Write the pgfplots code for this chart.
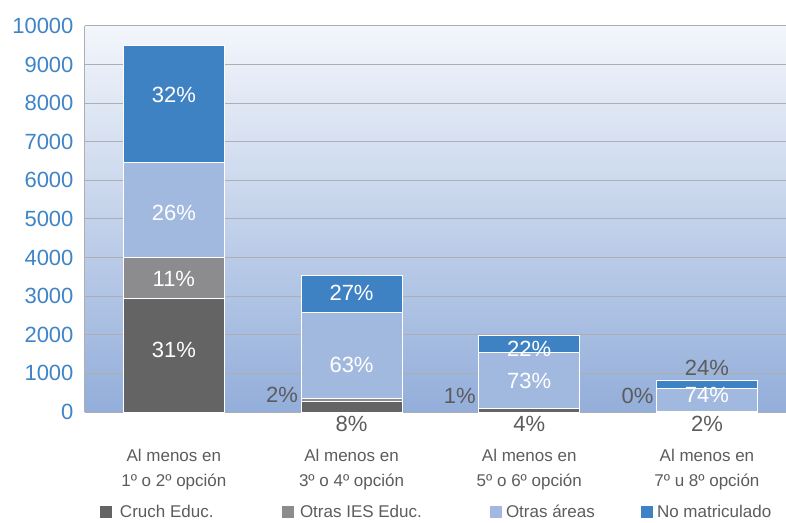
\documentclass[border=0pt]{standalone}
\usepackage{pgfplots}
\pgfplotsset{compat=1.18}
\usepackage{pgfplotstable}
\usepackage{fontspec}
\setmainfont{Liberation Sans}

\definecolor{cruch}{HTML}{646464}
\definecolor{otrasies}{HTML}{8C8C8E}
\definecolor{otrasareas}{HTML}{A2B9DF}
\definecolor{nomat}{HTML}{3E82C4}
\definecolor{bgtop}{HTML}{F3F6FB}
\definecolor{bgbot}{HTML}{93AEDA}
\definecolor{gridc}{HTML}{AEAEB2}
\definecolor{tickblue}{HTML}{3F84C6}
\definecolor{labgray}{HTML}{5C5C5C}

\tikzset{
  inlab/.style={font=\fontsize{22}{22}\selectfont, text=white},
  outlab/.style={font=\fontsize{22}{22}\selectfont, text=labgray},
}

% Postulantes por tramo de preferencia y situacion de matricula
\pgfplotstableread{
x cruch otrasies otrasareas nomat
0 2945 1045 2470 3040
1 282  71   2224 953
2 79   20   1438 433
3 16   0    596  193
}\matric

\begin{document}
\begin{tikzpicture}
\useasboundingbox (-85pt,-110pt) rectangle (701pt,412pt);
\begin{axis}[
  at={(0pt,0pt)}, anchor=south west,
  scale only axis, width=701pt, height=386pt,
  ybar stacked, bar width=101pt,
  xmin=-0.5, xmax=3.445, ymin=0, ymax=10000,
  clip=false,
  axis background/.style={top color=bgtop, bottom color=bgbot},
  axis x line*=bottom, axis y line*=left,
  axis line style={-, draw=gridc, line width=1pt},
  ymajorgrids, grid style={draw=gridc, line width=1pt},
  major tick length=0pt,
  scaled y ticks=false,
  ytick={0,1000,...,10000},
  yticklabels={0,1000,2000,3000,4000,5000,6000,7000,8000,9000,10000},
  yticklabel style={font=\fontsize{22}{22}\selectfont, text=tickblue, xshift=-8pt},
  xtick={0,1,2,3},
  xticklabels={{Al menos en\\1º o 2º opción},{Al menos en\\3º o 4º opción},
               {Al menos en\\5º o 6º opción},{Al menos en\\7º u 8º opción}},
  xticklabel style={align=center, font=\fontsize{17}{25}\selectfont, text=labgray, yshift=-34pt},
  legend columns=4,
  legend cell align=left,
  legend image code/.code={\fill[#1] (0pt,-6.5pt) rectangle (13pt,6.5pt);},
  legend style={at={(axis description cs:0,0)}, anchor=west, xshift=14pt, yshift=-100pt,
    draw=none, fill=none, inner sep=0pt, outer sep=0pt,
    nodes={inner sep=0pt, outer sep=0pt},
    font=\fontsize{17}{20}\selectfont, text=labgray,
    /tikz/every even column/.append style={column sep=0pt}},
]
\addplot[fill=cruch, draw=white, line width=1pt] table[x=x, y=cruch] {\matric};
\addplot[fill=otrasies, draw=white, line width=1pt] table[x=x, y=otrasies] {\matric};
\addplot[fill=otrasareas, draw=white, line width=1pt] table[x=x, y=otrasareas] {\matric};
\addplot[fill=nomat, draw=white, line width=1pt] table[x=x, y=nomat] {\matric};
\legend{\makebox[168pt][l]{\hspace{7pt}Cruch Educ.},
        \makebox[194pt][l]{\hspace{5pt}Otras IES Educ.},
        \makebox[137pt][l]{\hspace{3pt}Otras áreas},
        \makebox[120pt][l]{\hspace{3pt}No matriculado}}

% posiciones de los porcentajes de cada tramo
\coordinate (a1) at (axis cs:0,8212);
\coordinate (a2) at (axis cs:0,5155);
\coordinate (a3) at (axis cs:0,3446);
\coordinate (a4) at (axis cs:0,1606);
\coordinate (b1) at (axis cs:1,3083);
\coordinate (b2) at (axis cs:1,1218);
\coordinate (b3) at (axis cs:1,440);
\coordinate (b4) at (axis cs:1,0);
\coordinate (c1) at (axis cs:2,1632);
\coordinate (c2) at (axis cs:2,803);
\coordinate (c3) at (axis cs:2,415);
\coordinate (c4) at (axis cs:2,0);
\coordinate (d1) at (axis cs:3,1140);
\coordinate (d2) at (axis cs:3,440);
\coordinate (d3) at (axis cs:3,415);
\coordinate (d4) at (axis cs:3,0);
\end{axis}

\node[inlab] at (a1) {32\%};
\node[inlab] at (a2) {26\%};
\node[inlab] at (a3) {11\%};
\node[inlab] at (a4) {31\%};

\node[inlab] at (b1) {27\%};
\node[inlab] at (b2) {63\%};
\node[outlab, anchor=east] at ([xshift=-50pt]b3) {2\%};
\node[outlab] at ([yshift=-12pt]b4) {8\%};

\node[inlab] at (c1) {22\%};
\node[inlab] at (c2) {73\%};
\node[outlab, anchor=east] at ([xshift=-50pt]c3) {1\%};
\node[outlab] at ([yshift=-12pt]c4) {4\%};

\node[outlab] at (d1) {24\%};
\node[inlab] at (d2) {74\%};
\node[outlab, anchor=east] at ([xshift=-50pt]d3) {0\%};
\node[outlab] at ([yshift=-12pt]d4) {2\%};
\end{tikzpicture}
\end{document}
